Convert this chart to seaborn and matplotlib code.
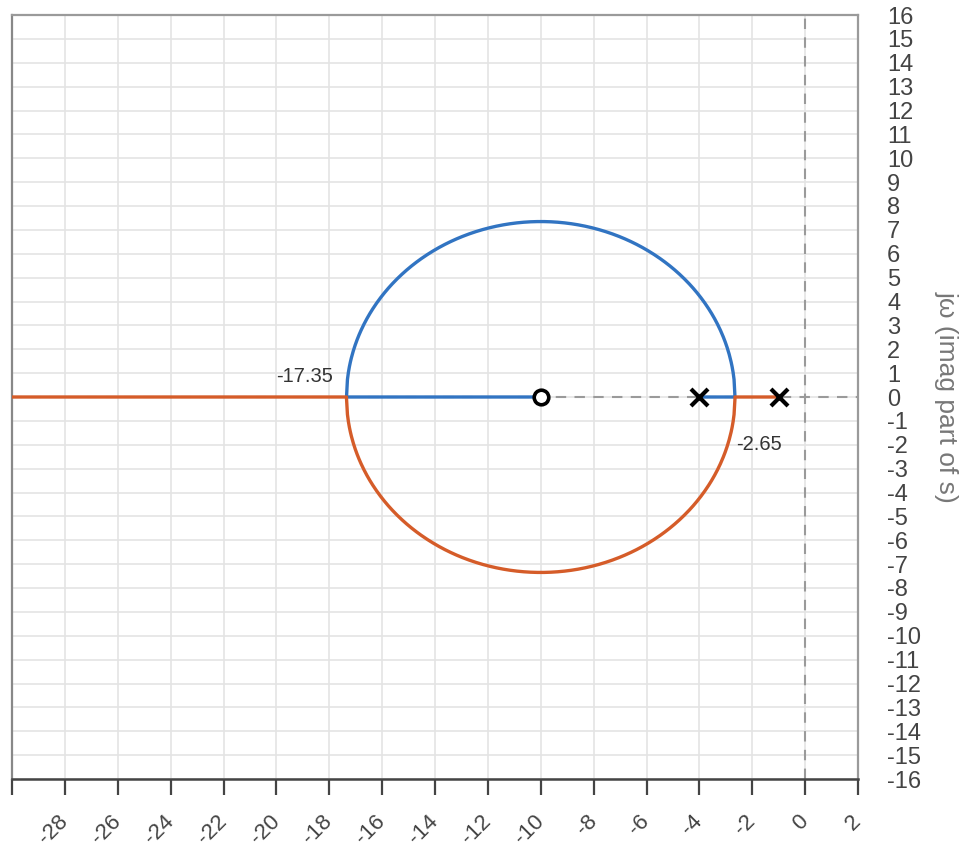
import numpy as np
import pandas as pd
import matplotlib
matplotlib.use("Agg")
import matplotlib.pyplot as plt
import seaborn as sns

# Open-loop system G(s) = (s + 10) / ((s + 1)(s + 4))
poles = [-1.0, -4.0]
zeros = [-10.0]
breakaway_points = [-17.35, -2.65]
breakaway_labels = ["-17.35", "-2.65"]

x_ticks = list(range(-30, 3, 2))
x_tick_labels = ["" if t == -30 else str(t) for t in x_ticks]
y_ticks = list(range(-16, 17, 1))
y_tick_labels = [str(t) for t in y_ticks]

BLUE = "#3174c2"
ORANGE = "#d55c29"

# Root locus: roots of den(s) + K * num(s) for a sweep of gains K
num = np.poly(zeros)
den = np.poly(poles)


def gain_at(s):
    return -np.polyval(den, s) / np.polyval(num, s)


k_lo = gain_at(breakaway_points[1])
k_hi = gain_at(breakaway_points[0])
gains = np.unique(np.concatenate([
    np.linspace(0, k_lo, 60),
    np.linspace(k_lo, k_hi, 400),
    np.geomspace(k_hi, 5000, 300),
]))

rows = []
for k in gains:
    r = np.roots(np.polyadd(den, k * num))
    if abs(r[0].imag) > 1e-9:
        up = r[np.argmax(r.imag)]
        dn = r[np.argmin(r.imag)]
    elif k <= k_lo:
        up, dn = r[np.argmin(r.real)], r[np.argmax(r.real)]
    else:
        up, dn = r[np.argmax(r.real)], r[np.argmin(r.real)]
    rows.append(("upper", k, up.real, up.imag))
    rows.append(("lower", k, dn.real, dn.imag))
locus = pd.DataFrame(rows, columns=["branch", "gain", "re", "im"])

sns.set_style("white")
plt.rcParams["font.family"] = ["Liberation Sans", "DejaVu Sans"]
plt.rcParams["axes.unicode_minus"] = False

fig = plt.figure(figsize=(9.69, 8.5), dpi=100)
ax = fig.add_axes([12 / 969, 71 / 850, 846 / 969, 764 / 850])

ax.set_xlim(-30, 2)
ax.set_ylim(-16, 16)

# grid
for t in x_ticks:
    ax.axvline(t, color="#e4e4e4", lw=1.2, zorder=0)
for t in y_ticks:
    ax.axhline(t, color="#e4e4e4", lw=1.2, zorder=0)

# axes through the origin
ax.axhline(0, color="#9a9a9a", lw=1.5, dashes=(5, 4), zorder=1)
ax.axvline(0, color="#9a9a9a", lw=1.5, dashes=(5, 4), zorder=1)

sns.lineplot(data=locus, x="re", y="im", hue="branch", sort=False,
             estimator=None, palette={"upper": BLUE, "lower": ORANGE},
             linewidth=2.4, legend=False, ax=ax, zorder=3)

sns.scatterplot(x=zeros, y=[0.0] * len(zeros), marker="o", s=110,
                facecolor="white", edgecolor="black", linewidth=2.6,
                ax=ax, zorder=5)
sns.scatterplot(x=poles, y=[0.0] * len(poles), marker="x", s=150,
                color="black", linewidth=3.0, ax=ax, zorder=5)

ax.text(breakaway_points[0] - 0.5, 0.85, breakaway_labels[0], ha="right",
        va="center", fontsize=14.5, color="#333333")
ax.text(breakaway_points[1] + 0.05, -2.0, breakaway_labels[1], ha="left",
        va="center", fontsize=14.5, color="#333333")

# x axis
ax.set_xticks(x_ticks)
ax.set_xticklabels(x_tick_labels, rotation=45, ha="right", va="center",
                   rotation_mode="anchor", fontsize=16, color="#444444")
ax.tick_params(axis="x", direction="out", length=11.5, width=1.6,
               color="#444444", pad=17, bottom=True)

# y axis on the right
ax.yaxis.tick_right()
ax.set_yticks(y_ticks)
ax.set_yticklabels(y_tick_labels, fontsize=17, color="#444444")
ax.tick_params(axis="y", length=0, pad=21)
ax.yaxis.set_label_position("right")
ax.set_ylabel("jω (imag part of s)", rotation=270, fontsize=19,
              color="#777777", ha="center", va="center")
ax.yaxis.set_label_coords(1.105, 0.5)
ax.set_xlabel("")

for side in ["top", "right", "left"]:
    ax.spines[side].set_visible(True)
    ax.spines[side].set_color("#9a9a9a")
    ax.spines[side].set_linewidth(1.6)
ax.spines["left"].set_color("#888888")
ax.spines["bottom"].set_color("#444444")
ax.spines["bottom"].set_linewidth(1.8)

fig.savefig("out.png", dpi=100)
